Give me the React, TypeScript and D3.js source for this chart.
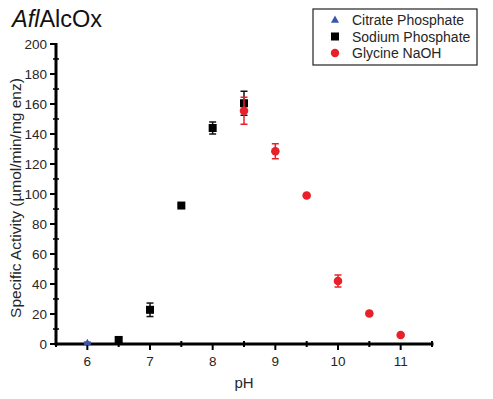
import React from "react";
import * as d3 from "d3";

const citratePH = [6];
const citrateVal = [0.8];
const citrateErr = [0.5];

const sodiumPH = [6.5, 7, 7.5, 8, 8.5];
const sodiumVal = [2.7, 22.8, 92.3, 144, 160.5];
const sodiumErr = [1.5, 4.5, 1, 4, 8];

const glycinePH = [8.5, 9, 9.5, 10, 10.5, 11];
const glycineVal = [155.5, 128.5, 99, 42, 20.3, 6];
const glycineErr = [9, 5, 1, 4, 1.2, 0.8];

const xTicks = [6, 7, 8, 9, 10, 11];
const yTicks = [0, 20, 40, 60, 80, 100, 120, 140, 160, 180, 200];

const legendLabels = ["Citrate Phosphate", "Sodium Phosphate", "Glycine NaOH"];

const W = 493, H = 399;
const L = 56, R = 432, T = 44, B = 344;
const FONT = "Liberation Sans, Arial, sans-serif";
const TXT = "#262626";

export default function App() {
  const x = d3.scaleLinear().domain([5.5, 11.5]).range([L, R]);
  const y = d3.scaleLinear().domain([0, 200]).range([B, T]);
  const xMinor = d3.range(5.5, 11.51, 0.5).filter((v) => !xTicks.includes(v));
  const yMinor = d3.range(10, 200, 20);

  const errBars = (ph: number[], val: number[], err: number[], color: string, key: string) =>
    ph.map((p, i) => {
      const cx = x(p);
      const y1 = y(val[i] + err[i]);
      const y2 = y(val[i] - err[i]);
      return (
        <g key={key + i} stroke={color} strokeWidth={1.5}>
          <line x1={cx} x2={cx} y1={y1} y2={y2} />
          <line x1={cx - 3.5} x2={cx + 3.5} y1={y1} y2={y1} />
          <line x1={cx - 3.5} x2={cx + 3.5} y1={y2} y2={y2} />
        </g>
      );
    });

  const tri = (cx: number, cy: number, s: number) =>
    `M${cx},${cy - s} L${cx + s * 0.9},${cy + s * 0.6} L${cx - s * 0.9},${cy + s * 0.6} Z`;

  return (
    <svg width={W} height={H} style={{ display: "block", position: "absolute", left: 0, top: 0 }} fontFamily={FONT}>
      <rect width={W} height={H} fill="#fff" />
      {/* title */}
      <text x={12} y={27} fontSize={23.5} fill="#111">
        <tspan fontStyle="italic">Afl</tspan>AlcOx
      </text>

      {/* legend */}
      <rect x={313} y={9} width={164} height={56} fill="#fff" stroke="#222" strokeWidth={1.2} />
      {legendLabels.map((lab, i) => {
        const ly = 20 + i * 16.5;
        return (
          <g key={lab}>
            {i === 0 && <path d={tri(335, ly, 4.5)} fill="#3a56a8" />}
            {i === 1 && <rect x={331} y={ly - 4} width={8} height={8} fill="#000" />}
            {i === 2 && <circle cx={335} cy={ly} r={4.2} fill="#e8202a" />}
            <text x={352} y={ly + 5} fontSize={14} fill={TXT}>{lab}</text>
          </g>
        );
      })}

      {/* axes */}
      <g stroke="#000" strokeWidth={3}>
        <line x1={L} x2={R + 1.5} y1={B} y2={B} />
        <line x1={L} x2={L} y1={T - 1} y2={B + 1.5} />
      </g>
      {yTicks.map((t) => (
        <g key={"yt" + t}>
          <line x1={L - 6} x2={L} y1={y(t)} y2={y(t)} stroke="#000" strokeWidth={2} />
          <text x={L - 9} y={y(t) + 5} fontSize={13.5} textAnchor="end" fill={TXT}>{t}</text>
        </g>
      ))}
      {yMinor.map((t) => (
        <line key={"ym" + t} x1={L - 3} x2={L + 3} y1={y(t)} y2={y(t)} stroke="#000" strokeWidth={1.5} />
      ))}
      {xTicks.map((t) => (
        <g key={"xt" + t}>
          <line x1={x(t)} x2={x(t)} y1={B} y2={B + 6} stroke="#000" strokeWidth={2} />
          <text x={x(t)} y={B + 22} fontSize={13.5} textAnchor="middle" fill={TXT}>{t}</text>
        </g>
      ))}
      {xMinor.map((t) => (
        <line key={"xm" + t} x1={x(t)} x2={x(t)} y1={B - 3} y2={B + 3} stroke="#000" strokeWidth={2} />
      ))}

      {/* axis labels */}
      <text x={244} y={388} fontSize={15} textAnchor="middle" fill={TXT}>pH</text>
      <text transform={`translate(21,${(T + B) / 2 + 4}) rotate(-90)`} fontSize={15.5} textAnchor="middle" fill={TXT}>
        Specific Activity (µmol/min/mg enz)
      </text>

      {/* data */}
      {errBars(citratePH, citrateVal, citrateErr, "#3a56a8", "ce")}
      {citratePH.map((p, i) => (
        <path key={"c" + i} d={tri(x(p), y(citrateVal[i]), 4)} fill="#3a56a8" />
      ))}
      {errBars(sodiumPH, sodiumVal, sodiumErr, "#111", "se")}
      {sodiumPH.map((p, i) => (
        <rect key={"s" + i} x={x(p) - 4} y={y(sodiumVal[i]) - 4} width={8} height={8} fill="#000" />
      ))}
      {errBars(glycinePH, glycineVal, glycineErr, "#e8202a", "ge")}
      {glycinePH.map((p, i) => (
        <circle key={"g" + i} cx={x(p)} cy={y(glycineVal[i])} r={4.3} fill="#e8202a" />
      ))}
    </svg>
  );
}
